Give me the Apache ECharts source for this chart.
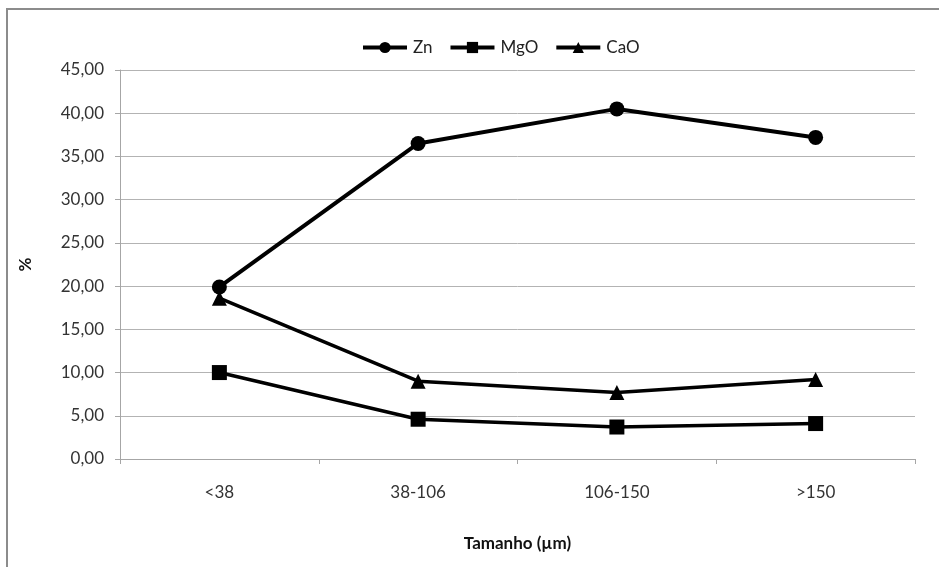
<!DOCTYPE html>
<html>
<head>
<meta charset="utf-8">
<script src="https://cdn.jsdelivr.net/npm/echarts@6/dist/echarts.min.js"></script>
<style>
  html, body {margin: 0; padding: 0; background: #fff;}
  #chart {width: 939px; height: 567px;}
</style>
</head>
<body>
<div id="chart"></div>
<script>
// data
const categories = ['<38', '38-106', '106-150', '>150'];
const zn = [19.9, 36.5, 40.5, 37.2];
const mgo = [10.0, 4.6, 3.7, 4.1];
const cao = [18.6, 9.0, 7.7, 9.2];

const font = 'Lato, "Open Sans", sans-serif';
const chart = echarts.init(document.getElementById('chart'));

const line = (name, data, symbol, size, width) => ({
  name,
  type: 'line',
  data,
  symbol,
  symbolSize: size,
  showSymbol: true,
  itemStyle: {color: '#000'},
  lineStyle: {color: '#000', width},
  emphasis: {disabled: true},
  animation: false,
});

chart.setOption({
  animation: false,
  graphic: [{
    type: 'rect',
    shape: {x: 7, y: 9, width: 960, height: 600},
    style: {fill: 'none', stroke: '#8c8c8c', lineWidth: 2},
    silent: true,
  }],
  legend: {
    top: 34,
    left: 356,
    itemWidth: 44,
    itemHeight: 14,
    itemGap: 16,
    lineStyle: {width: 4},
    textStyle: {fontFamily: font, fontSize: 17, color: '#222', padding: [0, 0, 0, 1]},
    data: ['Zn', 'MgO', 'CaO'],
  },
  grid: {left: 120, right: 24, top: 70, bottom: 108},
  xAxis: {
    type: 'category',
    data: categories,
    boundaryGap: true,
    name: 'Tamanho (µm)',
    nameLocation: 'middle',
    nameGap: 76,
    nameTextStyle: {fontFamily: font, fontSize: 17, fontWeight: 'bold', color: '#111'},
    axisLine: {lineStyle: {color: '#a6a6a6', width: 1}},
    axisTick: {show: true, length: 5, lineStyle: {color: '#a6a6a6'}},
    axisLabel: {fontFamily: font, fontSize: 17, color: '#333', margin: 25},
    splitLine: {show: false},
  },
  yAxis: {
    type: 'value',
    min: 0,
    max: 45,
    interval: 5,
    name: '%',
    nameLocation: 'middle',
    nameGap: 86,
    nameRotate: 90,
    nameTextStyle: {fontFamily: font, fontSize: 17, fontWeight: 'bold', color: '#111'},
    axisLine: {show: true, lineStyle: {color: '#a6a6a6', width: 1}},
    axisTick: {show: true, length: 5, lineStyle: {color: '#a6a6a6'}},
    axisLabel: {
      fontFamily: font, fontSize: 17, color: '#333', margin: 16,
      formatter: v => v.toFixed(2).replace('.', ','),
    },
    splitLine: {lineStyle: {color: '#b3b3b3', width: 1}},
  },
  series: [
    line('Zn', zn, 'circle', 15, 4),
    line('MgO', mgo, 'rect', 15, 3.5),
    line('CaO', cao, 'triangle', 15, 3.5),
  ],
});
</script>
</body>
</html>
